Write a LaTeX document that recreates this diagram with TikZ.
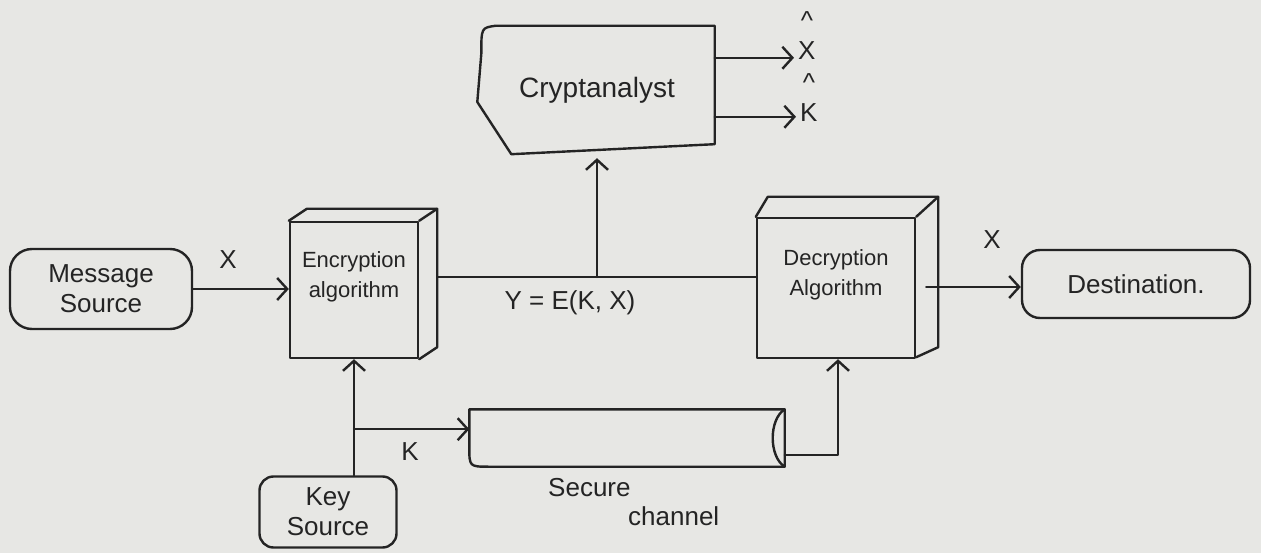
\documentclass[tikz,border=0pt]{standalone}
\usepackage{fontspec}
\setmainfont{Liberation Sans}
\usetikzlibrary{arrows.meta,calc}
\definecolor{paper}{RGB}{231,231,228}
\definecolor{ink}{RGB}{36,36,36}
\begin{document}
\begin{tikzpicture}[x=1pt,y=-1pt,
  inkline/.style={draw=ink,line width=2.4pt,line cap=round,line join=round},
  flow/.style={inkline,-{Straight Barb[length=10pt,width=22pt]}},
  box/.style={inkline,rectangle,align=center,text=ink,inner sep=0pt},
  txt/.style={text=ink,inner sep=0pt,align=center},
  big/.style={font=\fontsize{26}{30}\selectfont},
  mid/.style={font=\fontsize{22}{30}\selectfont},
  hatted/.style={txt,font=\fontsize{26}{30}\selectfont}]
\useasboundingbox (0,0) rectangle (1261,553);
\fill[paper] (0,0) rectangle (1261,553);

% --- sources and sink ---
\node[box,big,rounded corners=22pt,minimum width=182pt,minimum height=80pt] (msg) at (101,289) {Message\\Source};
\node[box,big,rounded corners=18pt,minimum width=228pt,minimum height=68pt] (dest) at (1136,284) {Destination.};
\node[box,big,rounded corners=14pt,minimum width=137pt,minimum height=71pt] (key) at (328,512) {Key\\Source};

% --- encryption block (front face + depth) ---
\node[box,mid,minimum width=128pt,minimum height=136pt,text depth=30pt] (enc) at (354,290) {Encryption\\algorithm};
\draw[inkline] (enc.north west) -- ++(18,-12)
  -| ($(enc.south east)+(18,-12)$) -- (enc.south east);
\draw[inkline] (enc.north east) -- ++(18,-12);

% --- decryption block (front face + depth) ---
\node[box,mid,minimum width=158pt,minimum height=140pt,text depth=30pt] (dec) at (836,288) {Decryption\\Algorithm};
\draw[inkline] (dec.north west) -- ++(12,-20)
  -| ($(dec.south east)+(22,-12)$) -- ($(dec.south east)+(0,-2)$);
\draw[inkline] (dec.north east) -- ++(22,-20);

% --- cryptanalyst (chamfered card) ---
\node[txt,font=\fontsize{28}{30}\selectfont,minimum width=235pt,minimum height=128pt] (crypt) at (597,90) {Cryptanalyst};
\draw[inkline] (crypt.north east) -- ($(crypt.south east)+(0,-10)$)
  -- ($(crypt.south west)+(32,0)$) -- ($(crypt.west)+(-2,12)$)
  -- ($(crypt.north west)+(2,28)$) .. controls ($(crypt.north west)+(2,2)$) .. ($(crypt.north west)+(16,0)$)
  -- cycle;

% --- secure channel (pipe) ---
\node[txt,minimum width=315pt,minimum height=57pt] (chan) at (627,438) {};
\draw[inkline] (chan.north west) -- (chan.north east)
  -- (chan.south east) -- ($(chan.south west)+(20,0)$)
  .. controls (chan.south west) .. ($(chan.south west)+(0,-20)$) -- cycle;
\draw[inkline] (chan.north east) .. controls ($(chan.north east)+(-16,10)$) and ($(chan.south east)+(-16,-10)$) .. (chan.south east);
\node[txt,big,anchor=west] (sec) at (548,488) {Secure};
\node[txt,big,anchor=west] (chn) at (628,516) {channel};

% --- labels ---
\node[txt,big] (lx1) at (228,260) {X};
\node[txt,big] (ly) at (570,303) {Y = E(K, X)};
\node[txt,big] (lx2) at (992,240) {X};
\node[txt,big] (lk) at (410,452) {K};
\node[hatted,anchor=west] (xhat) at (798,36) {\textasciicircum\\X};
\node[hatted,anchor=west] (khat) at (800,98) {\textasciicircum\\K};

% --- connectors ---
\coordinate (tap) at (597,277);
\coordinate (encr) at ($(enc.east)+(18,-13)$);
\draw[flow] (msg.east) -- (enc.west |- msg.east);
\draw[inkline] (encr) -- (dec.west |- tap);
\draw[flow] (tap) -- ($(crypt.south)+(0,4)$);
\coordinate (xa) at ($(crypt.north east)+(0,32)$);
\coordinate (ka) at ($(crypt.north east)+(0,91)$);
\draw[flow] (xa) -- ($(xa -| xhat.west)+(-4,0)$);
\draw[flow] (ka) -- ($(ka -| khat.west)+(-4,0)$);
\coordinate (decr) at ($(dec.east)+(10,-1)$);
\draw[flow] (decr) -- (dest.west |- decr);
\draw[flow] (key.north -| enc.south) -- (enc.south);
\coordinate (kb) at ($(enc.south)+(0,70)$);
\draw[flow] (kb) -- (chan.west |- kb);
\coordinate (cr) at ($(chan.south east)+(0,-12)$);
\coordinate (up) at (838,0);
\draw[flow] (cr) -- (cr -| up) -- (up |- dec.south);
\end{tikzpicture}
\end{document}
